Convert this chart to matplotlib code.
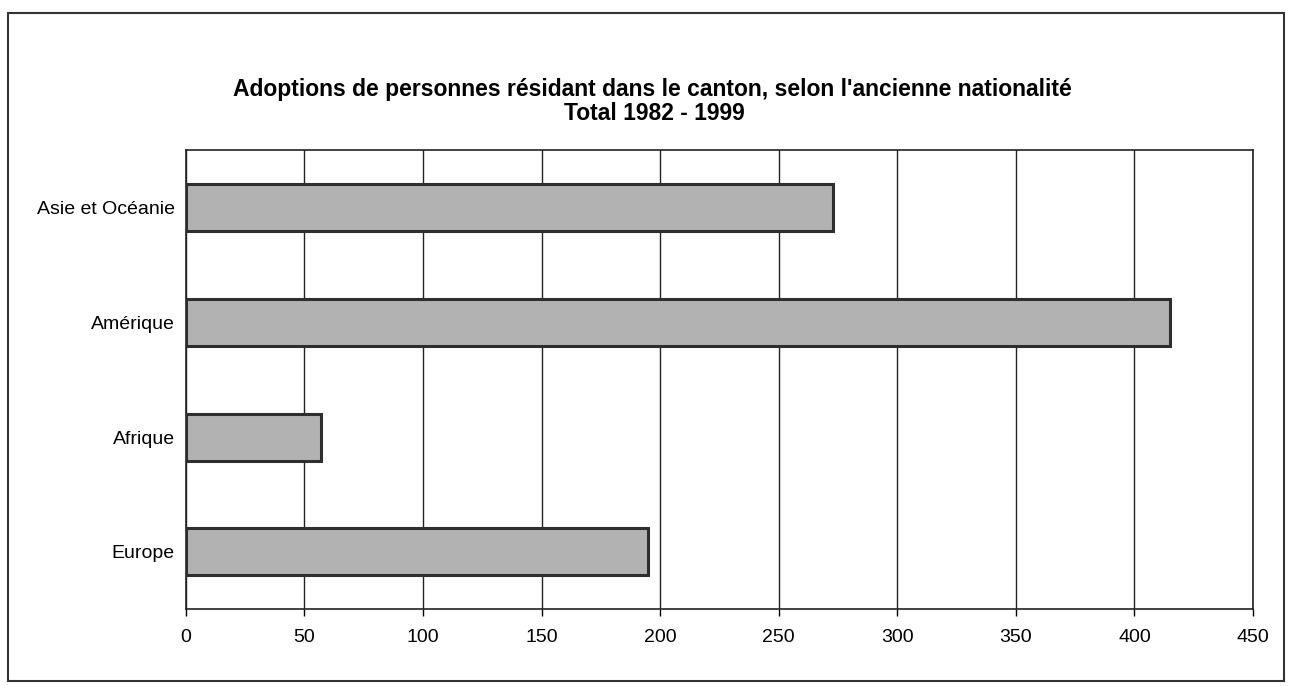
import matplotlib.pyplot as plt
from matplotlib.patches import Rectangle

regions = ["Europe", "Afrique", "Amérique", "Asie et Océanie"]
adoptions = [195, 57, 415, 273]
x_ticks = [0, 50, 100, 150, 200, 250, 300, 350, 400, 450]

plt.rcParams["font.family"] = ["Liberation Sans", "DejaVu Sans"]

fig = plt.figure(figsize=(12.91, 6.86), dpi=100)
ax = fig.add_axes([0.144, 0.112, 0.8266, 0.669])

ax.barh(range(len(regions)), adoptions, height=0.41,
        color="#b2b2b2", edgecolor="#2e2e2e", linewidth=2.2, zorder=3)

ax.set_xlim(0, 450)
ax.set_ylim(-0.5, len(regions) - 0.5)
ax.set_xticks(x_ticks)
ax.set_xticklabels([str(t) for t in x_ticks], fontsize=14)
ax.set_yticks(range(len(regions)))
ax.set_yticklabels(regions, fontsize=14)
ax.tick_params(axis="y", length=0, pad=8)
ax.tick_params(axis="x", length=5, pad=9, width=1)
ax.xaxis.grid(True, color="#222222", linewidth=1)
ax.set_axisbelow(True)
for s in ax.spines.values():
    s.set_color("#222222")
    s.set_linewidth(1.2)

fig.text(0.505, 0.869, "Adoptions de personnes résidant dans le canton, selon l'ancienne nationalité",
         ha="center", va="center", fontsize=16.5, fontweight="bold")
fig.text(0.507, 0.834, "Total 1982 - 1999",
         ha="center", va="center", fontsize=16.5, fontweight="bold")

# outer frame
fig.patches.append(Rectangle((0.0062, 0.008), 0.988, 0.973, transform=fig.transFigure,
                             fill=False, edgecolor="#333333", linewidth=1.5))

fig.savefig("out.png", dpi=100)
